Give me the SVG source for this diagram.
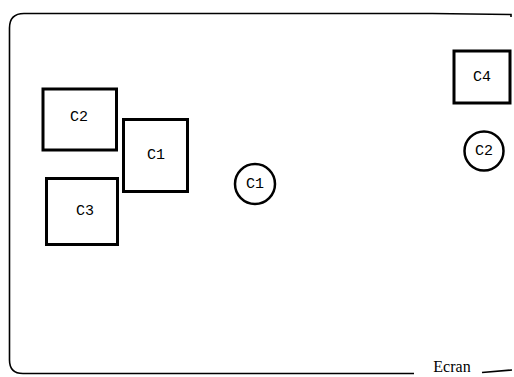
<svg xmlns="http://www.w3.org/2000/svg" width="514" height="377" viewBox="0 0 514 377">
<style>
.box{fill:none;stroke:#000;stroke-width:3}
.circ{fill:none;stroke:#000;stroke-width:2.5}
.lbl{font-family:"Liberation Mono",monospace;font-size:15px;fill:#000;text-anchor:middle;dominant-baseline:central}
.frame{fill:none;stroke:#000;stroke-width:1.6}
</style>
<rect width="514" height="377" fill="#fff"/>
<g id="frame">
<path class="frame" d="M414,373.5 L23,373.5 Q9.5,373.5 9.5,360 L9.5,28 Q9.5,13.5 24,13.5 L432,13.5 L511,14.5 L511,17"/>
<path class="frame" d="M482,372.5 L512,370"/>
<text x="452" y="372" style="font-family:'Liberation Serif',serif;font-size:16px;text-anchor:middle">Ecran</text>
</g>
<g id="node-c2-box"><rect class="box" x="43" y="89" width="73.5" height="61"/><text class="lbl" x="79" y="117">C2</text></g>
<g id="node-c1-box"><rect class="box" x="123.5" y="119.5" width="64" height="72"/><text class="lbl" x="156" y="155">C1</text></g>
<g id="node-c3-box"><rect class="box" x="46.5" y="178.5" width="71" height="66"/><text class="lbl" x="85" y="211">C3</text></g>
<g id="node-c4-box"><rect class="box" x="454" y="51" width="56" height="52"/><text class="lbl" x="482" y="77">C4</text></g>
<g id="node-c1-circle"><circle class="circ" cx="255" cy="184" r="20"/><text class="lbl" x="255" y="184">C1</text></g>
<g id="node-c2-circle"><circle class="circ" cx="484" cy="151" r="19.5"/><text class="lbl" x="484" y="151">C2</text></g>
<g id="connectors"></g>
</svg>
